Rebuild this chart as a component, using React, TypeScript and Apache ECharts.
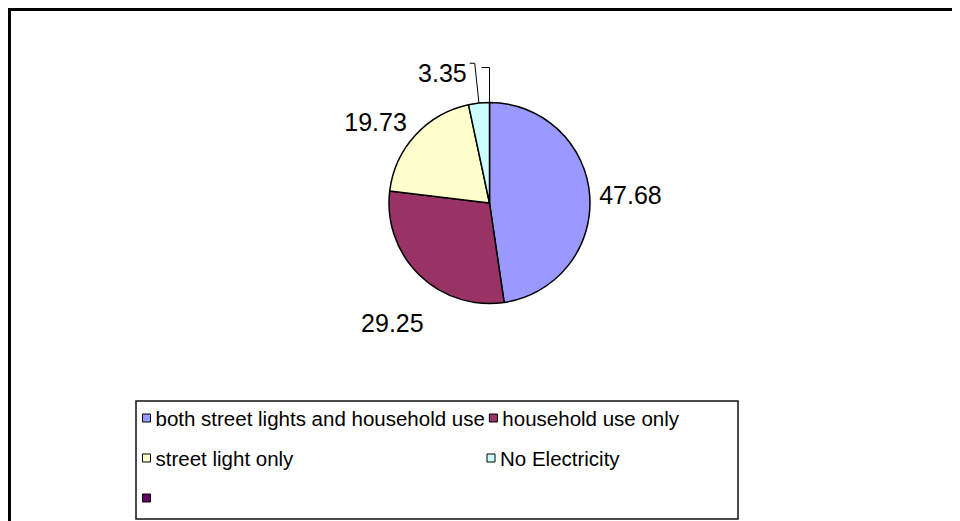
import React, { useEffect, useRef } from 'react';
import * as echarts from 'echarts';

const categories = ['both street lights and household use', 'household use only', 'street light only', 'No Electricity', ' '];
const values = [47.68, 29.25, 19.73, 3.35, 0];
const colors = ['#9999FF', '#993366', '#FFFFCC', '#CCFFFF', '#660066'];
// drawing order of the pie: the zero-value slice first so its leader sits at 12 o'clock
const pieOrder = [4, 0, 1, 2, 3];

const FONT = 'Liberation Sans, Arial, sans-serif';
const CX = 481.5;
const CY = 195;
const R = 100.5;
// radial distance beyond the rim and tangential shift of each free-standing label
const labelPlacement: (number[] | null)[] = [[40.7, 2.3], [53, -14], [38.3, -17], null, null];

export default function App() {
  const ref = useRef<HTMLDivElement>(null);
  useEffect(() => {
    if (!ref.current) return;
    const chart = echarts.init(ref.current, undefined, { renderer: 'svg' });
    const total = values.reduce((a, b) => a + b, 0);
    const mids: number[] = [];
    let cum = 0;
    pieOrder.forEach((i) => {
      mids[i] = ((cum + values[i] / 2) / total) * 2 * Math.PI;
      cum += values[i];
    });

    const data = pieOrder.map((i) => {
      const item: any = {
        name: categories[i],
        value: values[i],
        itemStyle: { color: colors[i] },
      };
      if (labelPlacement[i]) {
        item.labelLine = { show: false };
      } else if (values[i] > 0) {
        item.labelLine = { show: true, length: 40, length2: 5 };
        item.label = {
          distanceToLabelLine: 3,
          formatter: '{v|{c}}',
          rich: { v: { fontSize: 25, color: '#000', fontFamily: FONT, padding: [20, 0, 0, 0] } },
        };
      } else {
        item.labelLine = { show: true, length: 35, length2: 8 };
        item.label = { distanceToLabelLine: 2 };
      }
      return item;
    });

    const labelLayout = (params: any) => {
      const i = pieOrder[params.dataIndex];
      const pl = labelPlacement[i];
      if (!pl) return {};
      const m = mids[i];
      const ux = Math.sin(m), uy = -Math.cos(m);
      const vx = Math.cos(m), vy = Math.sin(m);
      const d = R + pl[0];
      return {
        x: CX + d * ux + pl[1] * vx,
        y: CY + d * uy + pl[1] * vy,
        align: 'center',
        verticalAlign: 'middle',
      };
    };

    chart.setOption({
      animation: false,
      backgroundColor: '#ffffff',
      textStyle: { fontFamily: FONT },
      graphic: [
        {
          type: 'rect',
          z: -10,
          shape: { x: 1.5, y: 1.5, width: 3000, height: 3000 },
          style: { fill: 'none', stroke: '#000', lineWidth: 3 },
          silent: true,
        },
        {
          type: 'rect',
          z: -10,
          shape: { x: 128, y: 393, width: 602, height: 118 },
          style: { fill: 'none', stroke: '#111', lineWidth: 1.5 },
          silent: true,
        },
      ],
      legend: {
        data: categories,
        orient: 'horizontal',
        left: 134,
        top: 392,
        width: 700,
        padding: 0,
        itemWidth: 8,
        itemHeight: 8,
        itemGap: 4,
        icon: 'rect',
        selectedMode: false,
        itemStyle: { borderColor: '#000', borderWidth: 1 },
        textStyle: { fontSize: 20.5, lineHeight: 36, width: 327, color: '#000', fontFamily: FONT },
      },
      series: [
        {
          type: 'pie',
          center: [CX, CY],
          radius: R,
          startAngle: 90,
          clockwise: true,
          avoidLabelOverlap: false,
          emphasis: { disabled: true },
          itemStyle: { borderColor: '#000', borderWidth: 1.5 },
          label: {
            show: true,
            position: 'outside',
            fontSize: 25,
            color: '#000',
            fontFamily: FONT,
            formatter: (p: any) => (p.value ? String(p.value) : ' '),
          },
          labelLine: { show: true, lineStyle: { color: '#000', width: 1 } },
          labelLayout,
          data,
        },
      ],
    });
    return () => chart.dispose();
  }, []);
  return <div ref={ref} style={{ width: 952, height: 513 }} />;
}
